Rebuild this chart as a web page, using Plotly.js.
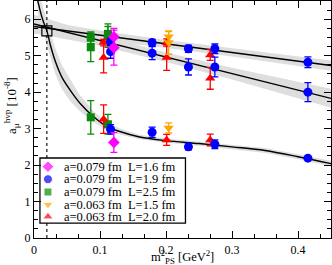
<!DOCTYPE html>
<html><head><meta charset="utf-8">
<script src="https://cdn.plot.ly/plotly-3.0.1.min.js"></script>
<style>body{margin:0;padding:0;background:#fff}#plot{width:332px;height:265px}</style>
</head><body><div id="plot"></div>
<script>
// ---- data ----
const physX = 0.0195;          // physical point m_PS^2
const physY = 5.68;            // extrapolated value (open square)

const magentaX = [0.121, 0.121, 0.121];
const magentaY = [5.52, 5.22, 2.62];
const magentaE = [0.23, 0.48, 0.27];

const blueX = [0.116, 0.179, 0.234, 0.274, 0.415, 0.116, 0.179, 0.234, 0.274, 0.415, 0.116, 0.179, 0.234, 0.274, 0.415];
const blueY = [5.38, 5.36, 5.19, 5.19, 4.82, 5.11, 5.07, 4.69, 4.69, 4.00, 2.98, 2.90, 2.50, 2.57, 2.19];
const blueE = [0.10, 0.09, 0.10, 0.13, 0.15, 0.18, 0.18, 0.22, 0.27, 0.26, 0.13, 0.14, 0.08, 0.12, 0.03];

const greenX = [0.086, 0.112, 0.086, 0.112, 0.086, 0.112];
const greenY = [5.49, 5.60, 5.23, 5.55, 3.31, 3.12];
const greenE = [0.16, 0.20, 0.39, 0.32, 0.46, 0.27];

const orangeX = [0.204, 0.204, 0.204];
const orangeY = [5.52, 5.36, 3.02];
const orangeE = [0.14, 0.32, 0.14];

const redX = [0.1055, 0.201, 0.267, 0.1055, 0.201, 0.267, 0.1055, 0.201, 0.267];
const redY = [5.36, 5.36, 5.02, 4.95, 4.95, 4.38, 3.26, 2.69, 2.69];
const redE = [0.09, 0.10, 0.15, 0.42, 0.35, 0.30, 0.39, 0.15, 0.16];

// fit lines and error bands
const lineX = [0, 0.1, 0.2, 0.3, 0.45];
const flatY = [5.80, 5.56, 5.32, 5.09, 4.73];
const flatW = [0.20, 0.13, 0.11, 0.11, 0.14];
const steepY = [5.87, 5.42, 4.96, 4.51, 3.83];
const steepW = [0.25, 0.15, 0.13, 0.16, 0.26];

const curveX = [0.0055, 0.008, 0.011, 0.0145, 0.0198, 0.025, 0.032, 0.042, 0.055, 0.07, 0.09, 0.11, 0.13, 0.16, 0.2, 0.25, 0.3, 0.35, 0.4, 0.45];
const curveY = [6.52, 6.33, 6.12, 5.92, 5.66, 5.28, 4.86, 4.42, 4.05, 3.69, 3.33, 3.06, 2.92, 2.77, 2.67, 2.59, 2.50, 2.40, 2.23, 2.04];
const curveW = [0.35, 0.35, 0.35, 0.35, 0.35, 0.35, 0.35, 0.33, 0.30, 0.22, 0.15, 0.10, 0.08, 0.06, 0.06, 0.06, 0.06, 0.07, 0.07, 0.08];

const legendNames = ["a=0.079 fm\u00a0\u00a0L=1.6 fm", "a=0.079 fm\u00a0\u00a0L=1.9 fm", "a=0.079 fm\u00a0\u00a0L=2.5 fm", "a=0.063 fm\u00a0\u00a0L=1.5 fm", "a=0.063 fm\u00a0\u00a0L=2.0 fm"];
const colors = ["#ff00ff", "#0000ff", "#0a8a0a", "#ffa500", "#ff0000"];
const symbols = ["diamond", "circle", "square", "triangle-down", "triangle-up"];

// ---- build ----
const FONT = "Liberation Serif, Times New Roman, serif";
const bandColor = "#dedede";
function band(xs, ys, ws) {
  const hi = ys.map((v, i) => v + ws[i]);
  const lo = ys.map((v, i) => v - ws[i]);
  return {x: xs.concat(xs.slice().reverse()), y: hi.concat(lo.slice().reverse()),
    type: "scatter", mode: "lines", fill: "toself", fillcolor: bandColor,
    line: {width: 0}, hoverinfo: "skip", showlegend: false};
}
function fitLine(xs, ys, shape) {
  return {x: xs, y: ys, type: "scatter", mode: "lines", line: {color: "#000", width: 1.4, shape: shape || "linear"}, showlegend: false};
}
function pts(xs, ys, es, k) {
  return {x: xs, y: ys, type: "scatter", mode: "markers", name: legendNames[k], showlegend: false,
    marker: {symbol: symbols[k], color: colors[k], size: k === 2 ? 8 : 9},
    error_y: {type: "data", array: es, visible: true, color: colors[k], thickness: 1.3, width: 3.5}};
}

const traces = [
  band(curveX, curveY, curveW),
  band(lineX, flatY, flatW),
  band(lineX, steepY, steepW),
  fitLine(curveX, curveY, "spline"),
  fitLine(lineX, flatY),
  fitLine(lineX, steepY),
  {x: [physX], y: [physY], type: "scatter", mode: "markers", showlegend: false,
   marker: {symbol: "square-open", size: 10, color: "#000", line: {width: 1.2}}},
  pts(greenX, greenY, greenE, 2),
  pts(redX, redY, redE, 4),
  pts(orangeX, orangeY, orangeE, 3),
  pts(blueX, blueY, blueE, 1),
  pts(magentaX, magentaY, magentaE, 0)
];

// legend (drawn manually to match the compact original)
const legTop = 0.3376, legBot = 0.063, legLeft = 0.020, legRight = 0.51;
const rowY = [0.301, 0.248, 0.194, 0.141, 0.090];
traces.push({x: rowY.map(() => 0.047), y: rowY, xaxis: "x2", yaxis: "y2", type: "scatter", mode: "markers",
  showlegend: false, hoverinfo: "skip",
  marker: {symbol: symbols, color: colors, size: [9, 9, 8, 9, 9]}});

const annotations = legendNames.map((t, i) => ({xref: "paper", yref: "paper", x: 0.095, y: rowY[i],
  xanchor: "left", yanchor: "middle", text: t, showarrow: false, font: {family: FONT, size: 12.5, color: "#000"}}));
annotations.push({xref: "paper", yref: "paper", x: -0.075, y: 0.56, xanchor: "center", yanchor: "middle",
  textangle: -90, showarrow: false, text: "a<sub>μ</sub><sup>hvp</sup> [10<sup>-8</sup>]",
  font: {family: FONT, size: 13, color: "#000"}});
annotations.push({xref: "paper", yref: "paper", x: 0.5, y: -0.082, xanchor: "center", yanchor: "middle",
  showarrow: false, text: "m<sup>2</sup><sub>PS</sub> [GeV<sup>2</sup>]",
  font: {family: FONT, size: 12.5, color: "#000"}});

const axisCommon = {showgrid: false, zeroline: false, showline: true, linecolor: "#000", linewidth: 1.2,
  mirror: "allticks", ticks: "inside", ticklen: 7, tickwidth: 1, tickcolor: "#000", automargin: false,
  tickfont: {family: FONT, size: 12, color: "#000"}};

const layout = {
  width: 332, height: 265,
  margin: {l: 34, r: 1, t: 1, b: 27},
  paper_bgcolor: "#fff", plot_bgcolor: "#fff",
  showlegend: false,
  xaxis: Object.assign({}, axisCommon, {range: [0, 0.45], dtick: 0.1, tick0: 0,
    minor: {dtick: 0.1 / 3, ticklen: 4, tickcolor: "#000", ticks: "inside"}}),
  yaxis: Object.assign({}, axisCommon, {range: [0, 6.5], dtick: 1, tick0: 0,
    minor: {dtick: 0.25, ticklen: 4, tickcolor: "#000", ticks: "inside"}}),
  xaxis2: {overlaying: "x", range: [0, 1], visible: false, anchor: "y2"},
  yaxis2: {overlaying: "y", range: [0, 1], visible: false, anchor: "x2"},
  annotations: annotations,
  shapes: [
    {type: "line", xref: "x", yref: "paper", x0: physX, x1: physX, y0: 0, y1: legBot, layer: "above", line: {color: "#000", width: 1.1, dash: "dot"}},
    {type: "line", xref: "x", yref: "paper", x0: physX, x1: physX, y0: legTop, y1: 1, layer: "above", line: {color: "#000", width: 1.1, dash: "dot"}},
    {type: "rect", xref: "paper", yref: "paper", x0: legLeft, x1: legRight, y0: legBot, y1: legTop, layer: "above", line: {color: "#000", width: 1.3}, fillcolor: "rgba(0,0,0,0)"}
  ]
};

Plotly.newPlot("plot", traces, layout, {staticPlot: true, displayModeBar: false});
</script></body></html>
